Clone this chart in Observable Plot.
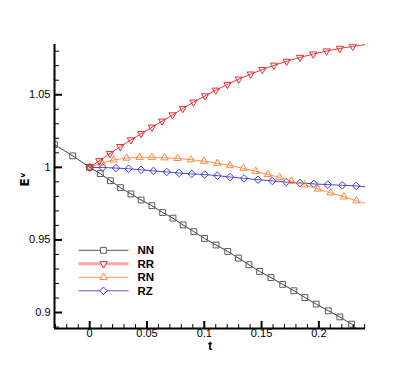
<!DOCTYPE html>
<html><head><meta charset="utf-8">
<script src="https://cdn.jsdelivr.net/npm/d3@7"></script>
<script src="https://cdn.jsdelivr.net/npm/@observablehq/plot@0.6"></script>
<style>body{margin:0;background:#fff}#chart{position:relative;width:415px;height:369px}</style>
</head><body><div id="chart"></div>
<script>
// ---- data ----
const seriesNames = ["NN", "RR", "RN", "RZ"];

const nnT = [-0.0308, -0.0148, 0, 0.0092, 0.0181, 0.0268, 0.036, 0.0449, 0.0543, 0.0637, 0.0727, 0.0815, 0.0909, 0.1002, 0.1103, 0.1205, 0.1298, 0.139, 0.1483, 0.1582, 0.1684, 0.1782, 0.1878, 0.1977, 0.2082, 0.2183, 0.2285];
const nnE = [1.0157, 1.0079, 1.0, 0.9957, 0.9908, 0.986, 0.9817, 0.9775, 0.9736, 0.9689, 0.965, 0.9603, 0.9557, 0.951, 0.9465, 0.9421, 0.9375, 0.9329, 0.9283, 0.9241, 0.9194, 0.915, 0.9103, 0.9058, 0.9012, 0.897, 0.892];
const nnEnd = [0.2335, 0.8885];

const rrT = [0, 0.0084, 0.0177, 0.0267, 0.036, 0.0449, 0.0543, 0.0632, 0.0723, 0.0813, 0.0906, 0.1007, 0.11, 0.1202, 0.13, 0.1405, 0.1507, 0.1608, 0.1719, 0.1835, 0.1951, 0.2067, 0.2183, 0.2296];
const rrE = [1.0, 1.0045, 1.0095, 1.0143, 1.0189, 1.0232, 1.0276, 1.0318, 1.0361, 1.0405, 1.0449, 1.0492, 1.0531, 1.0571, 1.0607, 1.0642, 1.0673, 1.0703, 1.073, 1.0757, 1.078, 1.0801, 1.0819, 1.0833];
const rrEnd = [0.2407, 1.0845];

const rnT = [0, 0.0105, 0.0209, 0.0322, 0.0436, 0.0543, 0.0653, 0.0767, 0.0882, 0.0998, 0.1115, 0.1225, 0.1341, 0.1449, 0.1556, 0.1658, 0.176, 0.1875, 0.1991, 0.2102, 0.2218, 0.2328];
const rnE = [1.0, 1.0029, 1.0051, 1.0064, 1.0069, 1.0069, 1.0066, 1.0061, 1.0053, 1.0042, 1.0028, 1.0012, 0.9993, 0.9973, 0.9951, 0.993, 0.9905, 0.9879, 0.9851, 0.9824, 0.9797, 0.977];
const rnEnd = [0.2398, 0.9752];

const rzT = [0, 0.0113, 0.0229, 0.034, 0.0449, 0.0557, 0.0673, 0.078, 0.0891, 0.1004, 0.1115, 0.1225, 0.1347, 0.1469, 0.1594, 0.1716, 0.1835, 0.1956, 0.2078, 0.2204, 0.2326];
const rzE = [1.0, 0.9999, 0.9995, 0.999, 0.9983, 0.9975, 0.9968, 0.9961, 0.9955, 0.995, 0.9943, 0.9933, 0.9924, 0.9915, 0.9906, 0.9898, 0.9892, 0.9886, 0.9881, 0.9876, 0.9872];
const rzEnd = [0.2398, 0.9867];

const xMajor = [0, 0.05, 0.1, 0.15, 0.2];
const xMajorLabels = ["0", "0.05", "0.1", "0.15", "0.2"];
const xMinor = [-0.03, -0.02, -0.01, 0.01, 0.02, 0.03, 0.04, 0.06, 0.07, 0.08, 0.09, 0.11, 0.12, 0.13, 0.14, 0.16, 0.17, 0.18, 0.19, 0.21, 0.22, 0.23, 0.24];
const yMajor = [0.9, 0.95, 1, 1.05];
const yMajorLabels = ["0.9", "0.95", "1", "1.05"];
const yMinor = [0.89, 0.91, 0.92, 0.93, 0.94, 0.96, 0.97, 0.98, 0.99, 1.01, 1.02, 1.03, 1.04, 1.06, 1.07, 1.08];
const xDomain = [-0.0307, 0.2407];
const yDomain = [0.889, 1.0846];
const xLabel = "t";
const yLabel = "E\u1D5B";

// ---- styles ----
const triDown = {draw(ctx, size) {
  const y = -Math.sqrt(size / (Math.sqrt(3) * 3));
  ctx.moveTo(0, -y * 2);
  ctx.lineTo(-Math.sqrt(3) * y, y);
  ctx.lineTo(Math.sqrt(3) * y, y);
  ctx.closePath();
}};
const styles = {
  NN: {line: "#3c3c3c", mark: "#5a5a5a", symbol: "square", r: 3.3, legendLine: "#555", legendWidth: 1},
  RR: {line: "#e83a3a", mark: "#e52d2d", symbol: triDown, r: 2.7, legendLine: "#f4a9a9", legendWidth: 3},
  RN: {line: "#ff9050", mark: "#ff8440", symbol: "triangle", r: 2.7, legendLine: "#ff9a60", legendWidth: 1},
  RZ: {line: "#4a4ad8", mark: "#3a3ad8", symbol: "diamond2", r: 3.4, legendLine: "#5050d8", legendWidth: 1}
};

const raw = {NN: [nnT, nnE, nnEnd], RR: [rrT, rrE, rrEnd], RN: [rnT, rnE, rnEnd], RZ: [rzT, rzE, rzEnd]};
const markerData = {}, lineData = {};
for (const s of seriesNames) {
  const [T, E, end] = raw[s];
  markerData[s] = T.map((t, i) => ({t, e: E[i]}));
  lineData[s] = [...markerData[s], {t: end[0], e: end[1]}];
}

const seriesMarks = [];
for (const s of ["RZ", "RN", "NN", "RR"]) {
  const st = styles[s];
  seriesMarks.push(Plot.line(lineData[s], {x: "t", y: "e", stroke: st.line, strokeWidth: 1, clip: true}));
  seriesMarks.push(Plot.dot(markerData[s], {x: "t", y: "e", symbol: st.symbol, r: st.r, stroke: st.mark, fill: "none", strokeWidth: 1, clip: true}));
}

const xFmt = d => xMajorLabels[xMajor.indexOf(d)];
const yFmt = d => yMajorLabels[yMajor.indexOf(d)];

const chart = Plot.plot({
  width: 415, height: 369,
  marginLeft: 54, marginRight: 50, marginTop: 44, marginBottom: 41,
  x: {domain: xDomain},
  y: {domain: yDomain},
  style: {fontFamily: "'Liberation Sans', Arial, sans-serif", fontSize: "11px", color: "#000", background: "#fff", overflow: "visible"},
  marks: [
    ...seriesMarks,
    Plot.axisX(xMinor, {tickSize: -4, tickFormat: () => "", label: null, strokeWidth: 1}),
    Plot.axisX(xMajor, {tickSize: -7, tickFormat: () => "", label: null, strokeWidth: 2}),
    Plot.axisX(xMajor, {tickSize: 0, tickPadding: 1, tickFormat: xFmt, label: null, fontSize: 11}),
    Plot.axisY(yMinor, {tickSize: -5, tickFormat: () => "", label: null, strokeWidth: 1}),
    Plot.axisY(yMajor, {tickSize: -8, tickFormat: () => "", label: null, strokeWidth: 2}),
    Plot.axisY(yMajor, {tickSize: 0, tickPadding: 4, tickFormat: yFmt, label: null, fontSize: 11}),
    Plot.ruleX([xDomain[0]], {stroke: "#000", strokeWidth: 2}),
    Plot.ruleY([yDomain[0]], {stroke: "#000", strokeWidth: 2}),
    Plot.text([xLabel], {text: d => d, frameAnchor: "bottom", dy: 13, lineAnchor: "top", fontSize: 12.5, fontWeight: "bold"}),
    Plot.text([yLabel], {text: d => d, frameAnchor: "left", dx: -29, dy: 0, rotate: -90, fontSize: 12, fontWeight: "bold", fontFamily: "'DejaVu Sans', sans-serif"})
  ]
});

// ---- legend (inside the plot area) ----
const svg = d3.select(chart);
const leg = svg.append("g").attr("class", "legend");
const rowY0 = 250.3, rowStep = 13.5;
seriesNames.forEach((s, i) => {
  const st = styles[s];
  const y = rowY0 + i * rowStep;
  leg.append("line").attr("x1", 78.5).attr("x2", 128.5).attr("y1", y).attr("y2", y)
    .attr("stroke", st.legendLine).attr("stroke-width", st.legendWidth);
  const sym = typeof st.symbol === "string"
    ? {square: d3.symbolSquare, triangle: d3.symbolTriangle, diamond2: d3.symbolDiamond2}[st.symbol]
    : st.symbol;
  leg.append("path").attr("d", d3.symbol(sym, st.r * st.r * Math.PI)())
    .attr("transform", `translate(103.5,${y})`)
    .attr("fill", "white").attr("stroke", st.mark);
  leg.append("text").attr("x", 137.5).attr("y", y).attr("dy", "0.35em")
    .attr("text-anchor", "start")
    .attr("font-size", 11.5).attr("font-weight", "bold").attr("fill", "#000").text(s);
});

document.getElementById("chart").appendChild(chart);
</script>
</body></html>
